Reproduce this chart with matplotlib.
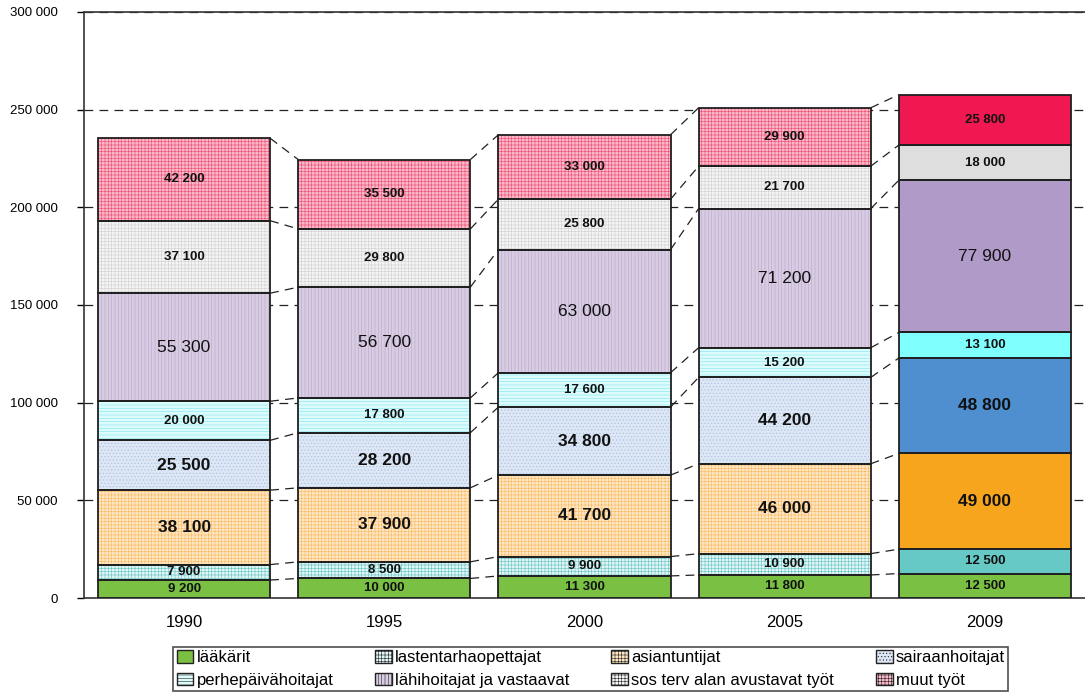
import matplotlib.pyplot as plt
import matplotlib.patches as mpatches
import numpy as np

plt.rcParams['font.family'] = ['Liberation Sans', 'DejaVu Sans']
plt.rcParams['hatch.linewidth'] = 0.4

years = ['1990', '1995', '2000', '2005', '2009']
groups = ['lääkärit', 'lastentarhaopettajat', 'asiantuntijat', 'sairaanhoitajat',
          'perhepäivähoitajat', 'lähihoitajat ja vastaavat', 'sos terv alan avustavat työt',
          'muut työt']

laakarit = [9200, 10000, 11300, 11800, 12500]
lastentarha = [7900, 8500, 9900, 10900, 12500]
asiantuntijat = [38100, 37900, 41700, 46000, 49000]
sairaanhoitajat = [25500, 28200, 34800, 44200, 48800]
perhepaiva = [20000, 17800, 17600, 15200, 13100]
lahihoitajat = [55300, 56700, 63000, 71200, 77900]
sos_terv = [37100, 29800, 25800, 21700, 18000]
muut = [42200, 35500, 33000, 29900, 25800]

series = [laakarit, lastentarha, asiantuntijat, sairaanhoitajat,
          perhepaiva, lahihoitajat, sos_terv, muut]

# light (patterned) colours for the older years, solid colours for 2009
light = ['#7ac143', '#dff4f4', '#ffe6c2', '#dce6f4', '#dcfcfc', '#d8cce2', '#f4f4f4', '#f8b8c8']
hatchc = ['#7ac143', '#66c4c4', '#f8b860', '#a8c0e0', '#80e0f0', '#b8a4cc', '#d0d0d0', '#f04870']
hatches = [None, '+++++', '+++++', '.....', '-----', '|||||', '+++++', '+++++']
solid = ['#7ac143', '#66c9c6', '#f8a51e', '#4f8fcf', '#80ffff', '#b09ac8', '#dedede', '#f01850']
big = [False, False, True, True, False, True, False, False]
bold = [True, True, True, True, True, False, True, True]

fig = plt.figure(figsize=(10.85, 6.96), dpi=100)
ax = fig.add_axes([0.0774, 0.1408, 0.9226, 0.8422])

x = np.arange(len(years))
w = 0.86
bottoms = np.zeros(len(years))
tops = []
for k, vals in enumerate(series):
    vals = np.array(vals, dtype=float)
    for i in range(len(years)):
        if i < 4:
            ax.bar(x[i], vals[i], w, bottom=bottoms[i], color=light[k], edgecolor=hatchc[k],
                   hatch=hatches[k], linewidth=0, zorder=2)
        else:
            ax.bar(x[i], vals[i], w, bottom=bottoms[i], color=solid[k], linewidth=0, zorder=2)
        ax.bar(x[i], vals[i], w, bottom=bottoms[i], fill=False, edgecolor='#202020',
               linewidth=1.3, zorder=3)
        ax.text(x[i], bottoms[i] + vals[i] / 2, f'{int(vals[i]):,}'.replace(',', ' '),
                ha='center', va='center', fontsize=12.5 if big[k] else 9.5,
                fontweight='bold' if bold[k] else 'normal', color='#111111', zorder=4)
    bottoms = bottoms + vals
    tops.append(bottoms.copy())

# dashed connectors between bars
for t in tops:
    for i in range(len(years) - 1):
        ax.plot([x[i] + w / 2, x[i + 1] - w / 2], [t[i], t[i + 1]], color='#222222',
                linewidth=0.9, dashes=(7, 5), zorder=1)

ax.set_xlim(-0.5, 4.5)
ax.set_ylim(0, 300000)
ax.set_yticks(np.arange(0, 300001, 50000))
ax.set_yticklabels([f'{v:,}'.replace(',', ' ') if v else '0' for v in range(0, 300001, 50000)],
                   fontsize=9.5)
ax.set_xticks(x)
ax.set_xticklabels(years, fontsize=12)
ax.tick_params(axis='x', length=0, pad=12)
ax.tick_params(axis='y', direction='out', length=5, width=1, pad=14)
for v in range(50000, 300001, 50000):
    ax.axhline(v, color='#222222', linewidth=0.9, dashes=(7, 5), zorder=0)
ax.spines['right'].set_visible(False)
for s in ['left', 'top', 'bottom']:
    ax.spines[s].set_linewidth(1.2)
    ax.spines[s].set_color('#333333')

handles = []
for k in [0, 4, 1, 5, 2, 6, 3, 7]:
    handles.append(mpatches.Patch(facecolor=light[k], edgecolor='#222222', linewidth=1,
                                  hatch=hatches[k], label=groups[k]))
leg = fig.legend(handles=handles, ncol=4, loc='lower left', bbox_to_anchor=(0.152, -0.005, 0.785, 0.07),
                 mode='expand', fontsize=12, frameon=True, fancybox=False, edgecolor='#222222',
                 handlelength=1.0, handleheight=0.8, handletextpad=0.2, borderpad=0.2,
                 labelspacing=0.45, columnspacing=1.0)
leg.get_frame().set_linewidth(1.2)

fig.savefig('out.png', dpi=100)
